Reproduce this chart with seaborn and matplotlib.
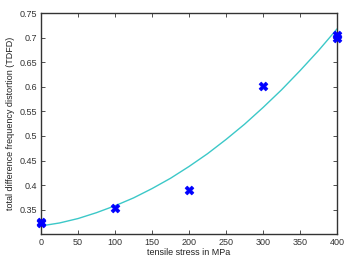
import seaborn as sns
import pandas as pd
import numpy as np
import matplotlib.pyplot as plt

# measured points (stress in MPa, TDFD)
stress = [0, 0, 100, 200, 300, 400, 400]
tdfd = [0.322, 0.325, 0.354, 0.390, 0.601, 0.700, 0.705]

# fitted curve
fit_stress = [0, 25, 50, 75, 100, 125, 150, 175, 200, 225, 250, 275, 300, 325, 350, 375, 400]
fit_tdfd = [0.317, 0.323, 0.332, 0.344, 0.358, 0.374, 0.393, 0.414, 0.438,
            0.464, 0.493, 0.524, 0.558, 0.594, 0.633, 0.674, 0.718]

sns.set_theme(style="white")
plt.rcParams['font.family'] = ['Liberation Sans', 'DejaVu Sans']

pts = pd.DataFrame({'stress': stress, 'tdfd': tdfd})
fit = pd.DataFrame({'stress': fit_stress, 'tdfd': fit_tdfd})

fig = plt.figure(figsize=(3.45, 2.58), dpi=100)
ax = fig.add_axes([0.119, 0.092, 0.858, 0.857])

sns.lineplot(data=fit, x='stress', y='tdfd', ax=ax, color='#3cc8c8', linewidth=1.0)
sns.scatterplot(data=pts, x='stress', y='tdfd', ax=ax, marker='X', color='#0000ff',
                s=40, edgecolor='#0000ff', linewidth=0.5, zorder=5, clip_on=False)

ax.set_xlim(0, 400)
ax.set_ylim(0.3, 0.75)
ax.set_xticks(range(0, 401, 50))
ax.set_yticks([0.35, 0.4, 0.45, 0.5, 0.55, 0.6, 0.65, 0.7, 0.75])
ax.set_yticklabels(['0.35', '0.4', '0.45', '0.5', '0.55', '0.6', '0.65', '0.7', '0.75'])
ax.tick_params(direction='in', length=3, width=0.6, labelsize=6.5, colors='#333333',
               top=True, right=True, bottom=True, left=True, pad=3)
for sp in ax.spines.values():
    sp.set_color('#333333')
    sp.set_linewidth(1.0)

ax.set_xlabel('tensile stress in MPa', fontsize=6.5, color='#222222', labelpad=0.5)
ax.set_ylabel('total difference frequency distortion (TDFD)', fontsize=6.5, color='#222222', labelpad=3)

fig.savefig('out.png', dpi=100)
